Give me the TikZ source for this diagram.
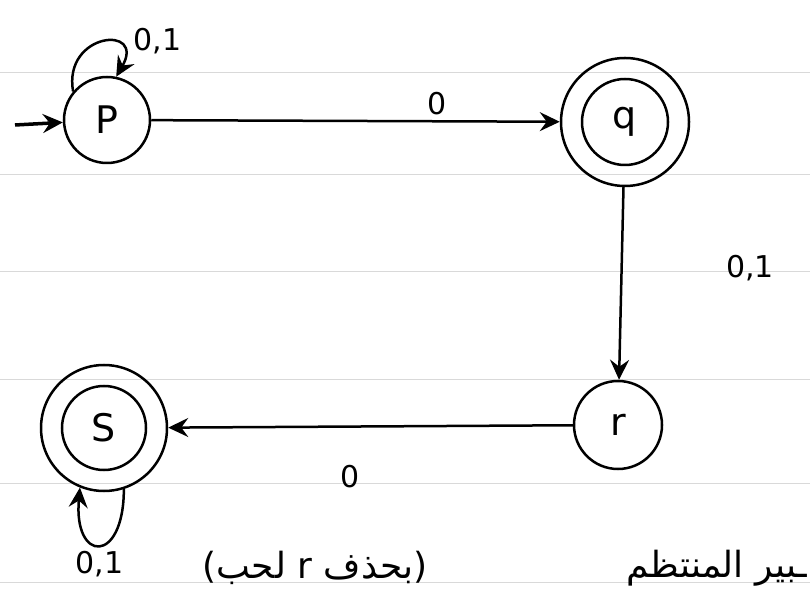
\documentclass[tikz,border=0pt]{standalone}
\usepackage{fontspec}
\setmainfont{DejaVu Sans}
\newfontfamily\arabicfont[Script=Arabic]{DejaVu Sans}
\TeXXeTstate=1
\usetikzlibrary{arrows.meta}

\begin{document}
\begin{tikzpicture}[x=1pt,y=1pt, line width=2.5pt,
  state/.style={draw, circle, minimum size=#1, inner sep=0pt, font=\fontsize{38}{42}\selectfont},
  state/.default=86pt,
  lbl/.style={font=\fontsize{30}{34}\selectfont},
  trans/.style={-{Stealth[length=20pt,width=19pt,inset=7pt]}},
  ruled/.style={line width=1pt, gray!30},
  arabic/.style={font=\arabicfont\fontsize{36}{40}\selectfont}]
\useasboundingbox (0,0) rectangle (810,613);
% lines of the paper
\foreach \y in {540,438,341,233,130,31}
  \draw[ruled] (0,\y) -- (810,\y);

% states
\node[state] (p) at (107,493) {P};
\node[state=128pt] (q) at (625,491) {q};
\draw (q.center) circle[radius=43pt];
\node[state=88pt] (r) at (618,188) {r};
\node[state=126pt] (s) at (104,185) {S};
\draw (s.center) circle[radius=42pt];
\coordinate (start) at (15,488);

% transitions
\draw[trans, line width=3.5pt] (start) -- (p);
\draw[trans] (p) -- node[lbl, pos=0.7, above=2pt] {0} (q);
\draw[trans] (q) -- node[lbl, pos=0.42, right=100pt] {0,1} (r);
\draw[trans] (r) -- node[lbl, pos=0.55, below=34pt] {0} (s);
\draw[trans] (p.140) to[out=100, in=60, looseness=3.4]
  node[lbl, pos=0.7, right=11pt, yshift=4pt] {0,1} (p.78);
\draw[trans] (s.-72) to[out=-90, in=-95, looseness=4.4]
  node[lbl, pos=0.5, below=2pt] {0,1} (s.-112);

% notes under the diagram
\node[arabic] (note) at (315,45) {\beginR(بحذف \beginL r\endL{} لحب)\endR};
\node[arabic, anchor=east] (title) at (812,45) {\beginR ـبير المنتظم\endR};
\end{tikzpicture}
\end{document}
